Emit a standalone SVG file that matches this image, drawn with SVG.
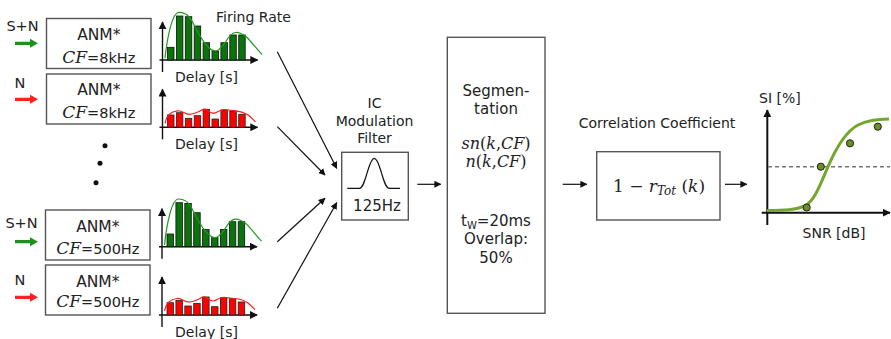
<svg xmlns="http://www.w3.org/2000/svg" width="891" height="339" viewBox="0 0 891 339">
<style>
text{font-family:"DejaVu Sans","Verdana",sans-serif;fill:#222}
.box{fill:#fff;stroke:#555;stroke-width:1.4}
.math{font-family:"DejaVu Serif","Liberation Serif",serif;font-style:italic}
.up{font-style:normal}
.conn{stroke:#111;stroke-width:1.2;fill:none}
.axis{stroke:#111;stroke-width:1.4;fill:none}
.gbar{fill:#0b730b;stroke:#111;stroke-width:0.8}
.rbar{fill:#ff0000;stroke:#222;stroke-width:0.8}
</style>
<defs>
<marker id="ah" viewBox="0 0 10 10" refX="9" refY="5" markerWidth="7" markerHeight="7" markerUnits="userSpaceOnUse" orient="auto">
<path d="M0,0 L10,5 L0,10 z" fill="#111"/>
</marker>
<marker id="axh" viewBox="0 0 10 10" refX="9" refY="5" markerWidth="8" markerHeight="8" markerUnits="userSpaceOnUse" orient="auto">
<path d="M0,0 L10,5 L0,10 z" fill="#111"/>
</marker>
<g id="ghist">
<line class="axis" x1="0" y1="12" x2="0" y2="-38" marker-end="url(#axh)"/>
<line class="axis" x1="-3" y1="0" x2="95" y2="0" marker-end="url(#axh)"/>
<rect class="gbar" x="5" y="-12.7" width="6.5" height="12.7"/>
<rect class="gbar" x="13.9" y="-44" width="6.5" height="44"/>
<rect class="gbar" x="22.8" y="-43.3" width="6.5" height="43.3"/>
<rect class="gbar" x="31.7" y="-34" width="6.5" height="34"/>
<rect class="gbar" x="40.6" y="-17.3" width="6.5" height="17.3"/>
<rect class="gbar" x="49.5" y="-9" width="6.5" height="9"/>
<rect class="gbar" x="58.4" y="-17.3" width="6.5" height="17.3"/>
<rect class="gbar" x="67.3" y="-25" width="6.5" height="25"/>
<rect class="gbar" x="76.2" y="-25" width="6.5" height="25"/>
<path d="M2.5,-1.7 C5,-25 10,-47 16,-47.7 C22,-48 26,-45 29,-40 C33,-32 38,-22 43,-16 C47,-11 50,-9 53,-9 C57,-9 60,-14 63,-18 C66,-23 69,-27 73,-27.5 C77,-28 80,-26 84,-23 C90,-17 95,-10 99.5,-5.5" fill="none" stroke="#1e9a1e" stroke-width="1.2"/>
</g>
<g id="rhist">
<line class="axis" x1="0" y1="12" x2="0" y2="-38" marker-end="url(#axh)"/>
<line class="axis" x1="-3" y1="0" x2="95" y2="0" marker-end="url(#axh)"/>
<rect class="rbar" x="5" y="-12.3" width="6.5" height="12.3"/>
<rect class="rbar" x="13.9" y="-14.6" width="6.5" height="14.6"/>
<rect class="rbar" x="22.8" y="-9" width="6.5" height="9"/>
<rect class="rbar" x="31.7" y="-11.6" width="6.5" height="11.6"/>
<rect class="rbar" x="40.6" y="-18" width="6.5" height="18"/>
<rect class="rbar" x="49.5" y="-8.3" width="6.5" height="8.3"/>
<rect class="rbar" x="58.4" y="-17.3" width="6.5" height="17.3"/>
<rect class="rbar" x="67.3" y="-16.3" width="6.5" height="16.3"/>
<rect class="rbar" x="76.2" y="-13" width="6.5" height="13"/>
<path d="M2.5,-4 C4,-12 9,-16 15,-16.5 C20,-17 22,-13 27,-13 C31,-13 33,-14 37,-16 C40,-18 43,-19 45,-17 C47,-15 49,-14 51,-14 C54,-14 56,-17 60,-17.5 C64,-18 68,-16.8 72,-16.5 C78,-16 82,-15 86,-12 C89,-9.5 91,-7 93,-5.5" fill="none" stroke="#ff1a1a" stroke-width="1.2"/>
</g>
<path id="garrow" d="M15,-1.6 L30,-1.6 L30,-4.5 L38,0 L30,4.5 L30,1.6 L15,1.6 z" fill="#1f8f1f"/>
<path id="rarrow" d="M15,-1.6 L30,-1.6 L30,-4.5 L38,0 L30,4.5 L30,1.6 L15,1.6 z" fill="#ff2020"/>
</defs>

<!-- Channel 1: S+N 8kHz -->
<g id="input-sn-8k">
<text x="22.5" y="31" font-size="14.5" text-anchor="middle">S+N</text>
<use href="#garrow" y="43.3"/>
</g>
<g id="anm-sn-8k">
<rect class="box" x="46.5" y="18.5" width="104.5" height="50"/>
<text x="98.8" y="39.5" font-size="15.5" text-anchor="middle">ANM*</text>
<text x="98.8" y="62.5" font-size="14.5" text-anchor="middle"><tspan class="math" font-size="17">CF</tspan>=8kHz</text>
</g>
<g id="hist-sn-8k">
<use href="#ghist" transform="translate(162.5,60)"/>
<text x="206.5" y="82" font-size="14" text-anchor="middle">Delay [s]</text>
</g>

<!-- Channel 2: N 8kHz -->
<g id="input-n-8k">
<text x="20" y="88" font-size="14.5" text-anchor="middle">N</text>
<use href="#rarrow" y="99.3"/>
</g>
<g id="anm-n-8k">
<rect class="box" x="46.5" y="74" width="104.5" height="50"/>
<text x="98.8" y="95" font-size="15.5" text-anchor="middle">ANM*</text>
<text x="98.8" y="118" font-size="14.5" text-anchor="middle"><tspan class="math" font-size="17">CF</tspan>=8kHz</text>
</g>
<g id="hist-n-8k">
<use href="#rhist" transform="translate(162.5,127.3)"/>
<text x="206.5" y="149" font-size="14" text-anchor="middle">Delay [s]</text>
</g>

<g id="ellipsis">
<circle cx="105" cy="145.7" r="2.5" fill="#111"/>
<circle cx="100" cy="163.3" r="2.5" fill="#111"/>
<circle cx="96" cy="182.7" r="2.5" fill="#111"/>
</g>

<!-- Channel 3: S+N 500Hz -->
<g id="input-sn-500">
<text x="21.5" y="228.3" font-size="14.5" text-anchor="middle">S+N</text>
<use href="#garrow" y="241.7"/>
</g>
<g id="anm-sn-500">
<rect class="box" x="45.5" y="210" width="104.5" height="50"/>
<text x="97.8" y="232" font-size="15.5" text-anchor="middle">ANM*</text>
<text x="97.8" y="253.5" font-size="14.5" text-anchor="middle"><tspan class="math" font-size="17">CF</tspan>=500Hz</text>
</g>
<g id="hist-sn-500">
<use href="#ghist" transform="translate(162,246.7)"/>
</g>

<!-- Channel 4: N 500Hz -->
<g id="input-n-500">
<text x="20" y="285" font-size="14.5" text-anchor="middle">N</text>
<use href="#rarrow" y="297.3"/>
</g>
<g id="anm-n-500">
<rect class="box" x="45.5" y="265" width="104.5" height="50"/>
<text x="97.8" y="286.5" font-size="15.5" text-anchor="middle">ANM*</text>
<text x="97.8" y="307" font-size="14.5" text-anchor="middle"><tspan class="math" font-size="17">CF</tspan>=500Hz</text>
</g>
<g id="hist-n-500">
<use href="#rhist" transform="translate(162,315)"/>
<text x="206.5" y="337" font-size="14" text-anchor="middle">Delay [s]</text>
</g>

<text id="firing-rate-label" x="216" y="21.7" font-size="14">Firing Rate</text>

<!-- IC Modulation Filter -->
<g id="ic-filter">
<text x="374.5" y="108.3" font-size="14" text-anchor="middle">IC</text>
<text x="374.5" y="126" font-size="14" text-anchor="middle">Modulation</text>
<text x="374.5" y="142.7" font-size="14" text-anchor="middle">Filter</text>
<rect class="box" x="341.7" y="152.3" width="66.6" height="67.7"/>
<path d="M347.3,188.3 L359.3,188.3 C363,188.3 365,180 368,170 C370.5,162 372.5,158.3 374.3,158.3 C376.1,158.3 378.1,162 380.6,170 C383.6,180 385.6,188.3 389.3,188.3 L400,188.3" fill="none" stroke="#111" stroke-width="1.2"/>
<text x="377" y="211" font-size="15" text-anchor="middle">125Hz</text>
</g>

<!-- Segmentation -->
<g id="segmentation">
<rect class="box" x="447.3" y="37.3" width="97.7" height="276"/>
<text x="496" y="95.7" font-size="15" text-anchor="middle">Segmen-</text>
<text x="496" y="114" font-size="15" text-anchor="middle">tation</text>
<text x="496" y="148.8" font-size="16" text-anchor="middle" class="math">sn<tspan class="up">(</tspan>k<tspan class="up">,</tspan>CF<tspan class="up">)</tspan></text>
<text x="496" y="167.2" font-size="16" text-anchor="middle" class="math">n<tspan class="up">(</tspan>k<tspan class="up">,</tspan>CF<tspan class="up">)</tspan></text>
<text x="496" y="226" font-size="15" text-anchor="middle">t<tspan font-size="10" dy="3">W</tspan><tspan dy="-3">=20ms</tspan></text>
<text x="496" y="244.3" font-size="15" text-anchor="middle">Overlap:</text>
<text x="496" y="262.7" font-size="15" text-anchor="middle">50%</text>
</g>

<!-- Correlation coefficient -->
<g id="correlation">
<text x="657" y="128.3" font-size="14" text-anchor="middle">Correlation Coefficient</text>
<rect class="box" x="596.7" y="151.7" width="123.3" height="68.3"/>
<text x="659" y="191.7" font-size="17" text-anchor="middle" class="math"><tspan class="up">1 − </tspan>r<tspan font-size="12" dy="3">Tot</tspan><tspan dy="-3" class="up"> (</tspan>k<tspan class="up">)</tspan></text>
</g>

<!-- SI plot -->
<g id="si-plot">
<text x="759" y="103.3" font-size="14">SI [%]</text>
<line x1="767.3" y1="225" x2="767.3" y2="110" stroke="#111" stroke-width="2" marker-end="url(#axh)"/>
<line x1="761.7" y1="212.7" x2="890" y2="212.7" stroke="#111" stroke-width="2" marker-end="url(#axh)"/>
<line x1="768" y1="166.7" x2="890" y2="166.7" stroke="#777" stroke-width="1.4" stroke-dasharray="4,3"/>
<path d="M767,210.5 C785,210.5 795,210 805,206 C815,200 820,185 828,166.7 C836,148 845,132 858,125 C868,120 878,119.5 889,119" fill="none" stroke="#74a52d" stroke-width="3"/>
<circle cx="806.7" cy="207.5" r="3.6" fill="#6b8e23" stroke="#222" stroke-width="1"/>
<circle cx="820.8" cy="166.7" r="3.6" fill="#6b8e23" stroke="#222" stroke-width="1"/>
<circle cx="850" cy="143.3" r="3.6" fill="#6b8e23" stroke="#222" stroke-width="1"/>
<circle cx="877.8" cy="126.7" r="3.6" fill="#6b8e23" stroke="#222" stroke-width="1"/>
<text x="834" y="238.3" font-size="14" text-anchor="middle">SNR [dB]</text>
</g>

<!-- Connectors -->
<g id="connectors">
<line class="conn" x1="277.3" y1="51.7" x2="336.7" y2="168.3" marker-end="url(#ah)"/>
<line class="conn" x1="277.3" y1="126.7" x2="325" y2="175" marker-end="url(#ah)"/>
<line class="conn" x1="277.3" y1="241.7" x2="325" y2="198.3" marker-end="url(#ah)"/>
<line class="conn" x1="277.3" y1="308.3" x2="336.7" y2="202.7" marker-end="url(#ah)"/>
<line class="conn" x1="417.3" y1="184.3" x2="440.7" y2="184.3" marker-end="url(#ah)"/>
<line class="conn" x1="562.7" y1="184.3" x2="586.7" y2="184.3" marker-end="url(#ah)"/>
<line class="conn" x1="725" y1="184.3" x2="746.7" y2="184.3" marker-end="url(#ah)"/>
</g>
</svg>
